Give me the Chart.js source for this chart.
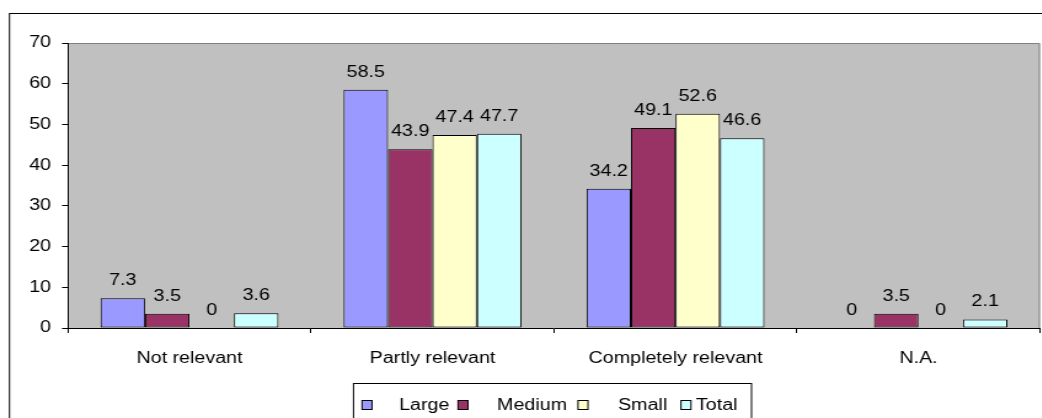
<!DOCTYPE html>
<html>
<head>
<meta charset="utf-8">
<script src="https://cdn.jsdelivr.net/npm/chart.js@4"></script>
<style>
  html, body { margin: 0; padding: 0; background: #fff; overflow: hidden; }
  #wrap { width: 847px; height: 418px; transform: scaleX(1.23); transform-origin: 0 0; }
</style>
</head>
<body>
<div id="wrap"><canvas id="barChart" width="847" height="418"></canvas></div>
<script>
const categories = ["Not relevant", "Partly relevant", "Completely relevant", "N.A."];
const large = [7.3, 58.5, 34.2, 0];
const medium = [3.5, 43.9, 49.1, 3.5];
const small = [0, 47.4, 52.6, 0];
const total = [3.6, 47.7, 46.6, 2.1];
const yTicks = [0, 10, 20, 30, 40, 50, 60, 70];

// the original picture is stretched sideways, so draw narrow and widen with css
const S = 1.23;
const px = (v) => v / S;

const FONT = "Liberation Sans, Arial, sans-serif";
const fontSize = 16;

// plot background, frame, value labels and boxed legend like the old office chart
const decor = {
  id: "decor",
  beforeDraw(chart) {
    const { ctx, chartArea: a } = chart;
    ctx.save();
    ctx.strokeStyle = "#000";
    ctx.lineWidth = 1;
    ctx.strokeRect(px(9.5), 13.5, px(1040), 500);
    ctx.fillStyle = "#c0c0c0";
    ctx.fillRect(a.left, a.top, a.right - a.left, a.bottom - a.top);
    ctx.strokeStyle = "#808080";
    ctx.beginPath();
    ctx.moveTo(a.left, a.top + 0.5);
    ctx.lineTo(a.right - 0.5, a.top + 0.5);
    ctx.lineTo(a.right - 0.5, a.bottom);
    ctx.stroke();
    ctx.restore();
  },
  afterDatasetsDraw(chart) {
    const { ctx } = chart;
    ctx.save();
    ctx.font = fontSize + "px " + FONT;
    ctx.fillStyle = "#000";
    ctx.textAlign = "center";
    ctx.textBaseline = "alphabetic";
    chart.data.datasets.forEach((ds, i) => {
      chart.getDatasetMeta(i).data.forEach((bar, j) => {
        ctx.fillText(String(ds.data[j]), bar.x, bar.y - 13);
      });
    });
    ctx.restore();
  },
  afterDraw(chart) {
    const { ctx } = chart;
    const markX = [362, 458, 578, 681];
    const textX = [399, 497, 618, 696];
    ctx.save();
    ctx.strokeStyle = "#000";
    ctx.lineWidth = 1;
    ctx.strokeRect(px(353.5), 383.5, px(398), 60);
    ctx.font = fontSize + "px " + FONT;
    ctx.textBaseline = "middle";
    ctx.textAlign = "left";
    chart.data.datasets.forEach((ds, i) => {
      ctx.fillStyle = ds.backgroundColor;
      ctx.fillRect(px(markX[i]), 400.5, px(10), 9);
      ctx.strokeRect(px(markX[i]), 400.5, px(10), 9);
      ctx.fillStyle = "#000";
      ctx.fillText(ds.label, px(textX[i]), 405.5);
    });
    ctx.restore();
  }
};

const bar = (label, data, color) => ({
  label: label,
  data: data,
  backgroundColor: color,
  borderColor: "#000",
  borderWidth: 1,
  borderSkipped: false,
  categoryPercentage: 0.732,
  barPercentage: 1.0
});

new Chart(document.getElementById("barChart"), {
  type: "bar",
  data: {
    labels: categories,
    datasets: [
      bar("Large", large, "#9999ff"),
      bar("Medium", medium, "#993366"),
      bar("Small", small, "#ffffcc"),
      bar("Total", total, "#ccffff"),
    ],
  },
  plugins: [decor],
  options: {
    responsive: false,
    animation: false,
    layout: { padding: { left: 8, right: 1.5, top: 43, bottom: 0 } },
    plugins: {
      legend: { display: false },
      tooltip: { enabled: false },
    },
    scales: {
      x: {
        afterFit: (s) => { s.height = 90; },
        grid: { display: true, drawOnChartArea: false, offset: true, color: "#000", tickLength: 5 },
        border: { display: true, color: "#000", width: 1 },
        ticks: { color: "#000", font: { family: FONT, size: fontSize }, padding: 16, maxRotation: 0 },
      },
      y: {
        min: 0,
        max: 70,
        afterFit: (s) => { s.width = px(68) - 8; },
        afterBuildTicks: (s) => { s.ticks = yTicks.map((v) => ({ value: v })); },
        grid: { display: true, drawOnChartArea: false, color: "#000", tickLength: px(6) },
        border: { display: true, color: "#000", width: 1 },
        ticks: { color: "#000", font: { family: FONT, size: fontSize }, padding: px(11) },
      },
    },
  },
});
</script>
</body>
</html>
